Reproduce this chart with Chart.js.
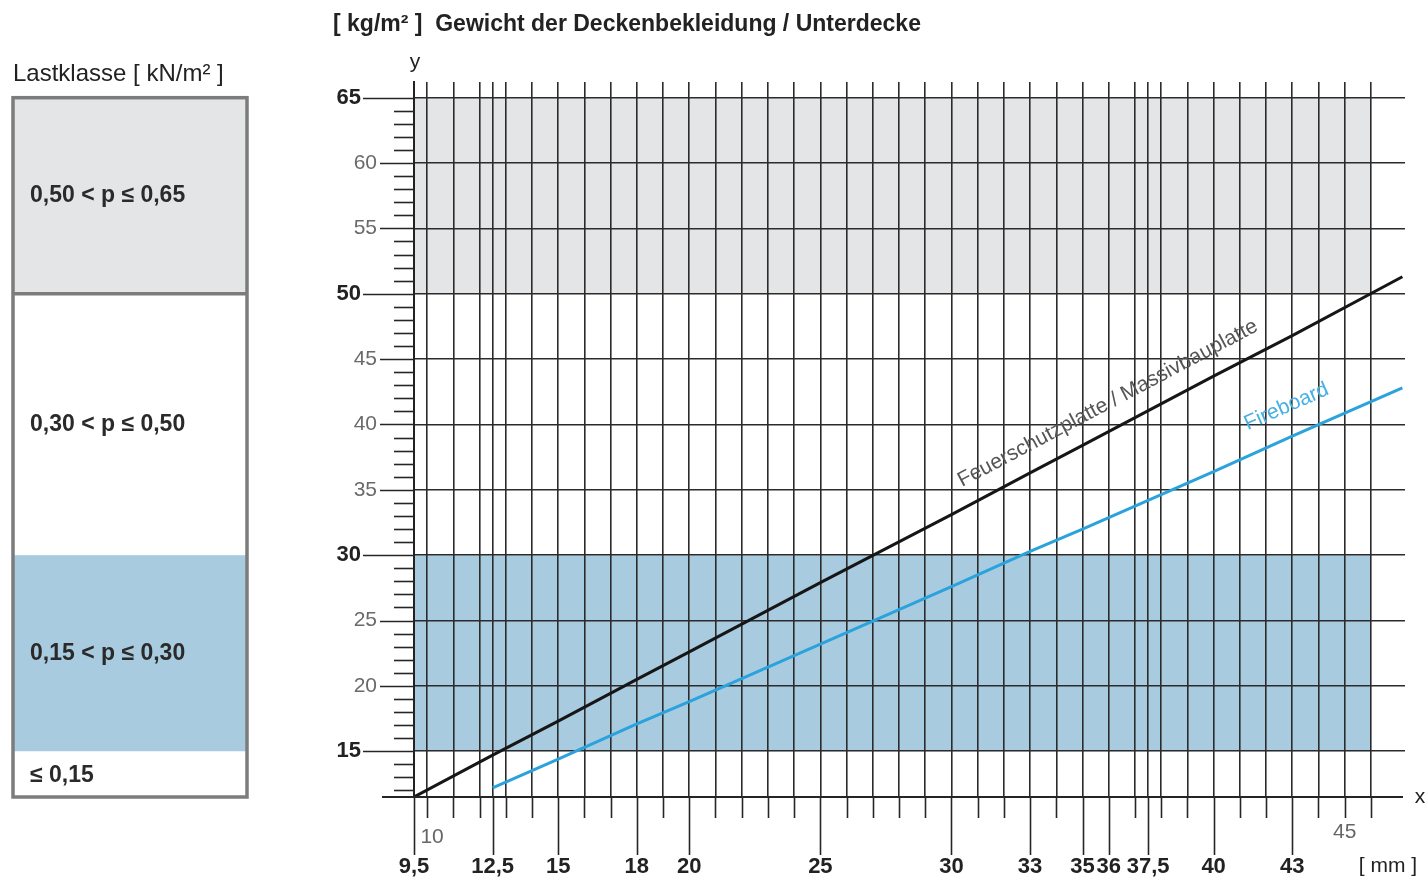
<!DOCTYPE html>
<html><head><meta charset="utf-8">
<script src="https://cdn.jsdelivr.net/npm/chart.js@4.4.1/dist/chart.umd.min.js"></script>
<style>html,body{margin:0;padding:0;background:#fff;}canvas{display:block}</style>
</head><body>
<canvas id="c" width="1428" height="880"></canvas>
<script>
// ---- data ----
const thicknessFeuer = [9.5, 12.5, 15, 18, 20, 25, 30, 33, 35, 40, 43, 47.2];
const weightFeuer    = [11.5, 14.7, 17.3, 20.5, 22.6, 27.9, 33.1, 36.3, 38.4, 43.7, 46.8, 51.3];
const thicknessFire  = [12.5, 15, 18, 20, 25, 30, 33, 35, 40, 43, 47.2];
const weightFire     = [12.2, 14.4, 17.1, 18.8, 23.2, 27.6, 30.3, 32.0, 36.4, 39.1, 42.8];

const xGridValues = [10,11,12,12.5,13,14,15,16,17,18,19,20,21,22,23,24,25,26,27,28,29,30,31,32,33,34,35,36,37,37.5,38,39,40,41,42,43,44,45,46];
const xMainTicks  = [9.5,12.5,15,18,20,25,30,33,35,36,37.5,40,43];
const xMainLabels = ['9,5','12,5','15','18','20','25','30','33','35','36','37,5','40','43'];
const xSideTicks  = [10,45];
const xSideLabels = ['10','45'];
const yMajorTicks = [15,20,25,30,35,40,45,50,55,60,65];
const yBoldTicks  = [15,30,50,65];
const yMinorTicks = [12,13,14,16,17,18,19,21,22,23,24,26,27,28,29,31,32,33,34,36,37,38,39,41,42,43,44,46,47,48,49,51,52,53,54,56,57,58,59,61,62,63,64];
const loadClassLabels = ['0,50 < p \u2264 0,65','0,30 < p \u2264 0,50','0,15 < p \u2264 0,30','\u2264 0,15'];
const loadClassLow  = [50, 30, 15, 11.5];
const loadClassHigh = [65, 50, 30, 15];
const seriesNames = ['Feuerschutzplatte / Massivbauplatte', 'Fireboard'];
const titleText = '[ kg/m\u00B2 ]  Gewicht der Deckenbekleidung / Unterdecke';
const panelTitle = 'Lastklasse [ kN/m\u00B2 ]';

const X_MIN = 9.5, X_MAX = 47.3, Y_MIN = 11.5, Y_MAX = 66.2, BAND_X_END = 46;
const FONT = '"Liberation Sans", Arial, Helvetica, sans-serif';
const GRAY_BAND = '#e4e5e7', BLUE_BAND = '#a9cbe0';

function interp(xs, ys, x) {
  for (let i = 0; i < xs.length - 1; i++) {
    if (x >= xs[i] && x <= xs[i+1]) return ys[i] + (ys[i+1]-ys[i])*(x-xs[i])/(xs[i+1]-xs[i]);
  }
  return ys[ys.length-1];
}

const decor = {
  id: 'decor',
  beforeDraw(chart) {
    const ctx = chart.ctx, xs = chart.scales.x, ys = chart.scales.y;
    ctx.save();
    ctx.fillStyle = '#fff';
    ctx.fillRect(0, 0, chart.width, chart.height);
    const x0 = xs.getPixelForValue(X_MIN), x1 = xs.getPixelForValue(BAND_X_END);
    ctx.fillStyle = GRAY_BAND;
    ctx.fillRect(x0, ys.getPixelForValue(65), x1 - x0, ys.getPixelForValue(50) - ys.getPixelForValue(65));
    ctx.fillStyle = BLUE_BAND;
    ctx.fillRect(x0, ys.getPixelForValue(30), x1 - x0, ys.getPixelForValue(15) - ys.getPixelForValue(30));
    const pL = 13, pR = 247;
    ctx.fillStyle = GRAY_BAND;
    ctx.fillRect(pL, ys.getPixelForValue(65), pR - pL, ys.getPixelForValue(50) - ys.getPixelForValue(65));
    ctx.fillStyle = BLUE_BAND;
    ctx.fillRect(pL, ys.getPixelForValue(30), pR - pL, ys.getPixelForValue(15) - ys.getPixelForValue(30));
    ctx.restore();
  },
  afterDraw(chart) {
    const ctx = chart.ctx, xs = chart.scales.x, ys = chart.scales.y;
    const bottom = ys.getPixelForValue(Y_MIN);
    const axisX = xs.getPixelForValue(X_MIN);
    ctx.save();
    ctx.strokeStyle = '#252525';
    ctx.lineWidth = 2;
    ctx.beginPath(); ctx.moveTo(382, bottom); ctx.lineTo(1403, bottom); ctx.stroke();
    ctx.lineWidth = 1.6;
    const allX = [X_MIN].concat(xGridValues);
    allX.forEach(v => {
      let len = 21;
      if (xMainTicks.includes(v)) len = 58;
      const px = Math.round(xs.getPixelForValue(v)) + 0.5;
      ctx.beginPath(); ctx.moveTo(px, bottom); ctx.lineTo(px, bottom + len); ctx.stroke();
    });
    ctx.textAlign = 'center'; ctx.textBaseline = 'middle';
    ctx.fillStyle = '#222';
    ctx.font = 'bold 22px ' + FONT;
    xMainTicks.forEach((v, i) => ctx.fillText(xMainLabels[i], xs.getPixelForValue(v), 867));
    ctx.fillStyle = '#666';
    ctx.font = '21px ' + FONT;
    ctx.fillText(xSideLabels[0], xs.getPixelForValue(xSideTicks[0]) + 5, 837);
    ctx.fillText(xSideLabels[1], xs.getPixelForValue(xSideTicks[1]), 832);
    ctx.fillStyle = '#222';
    ctx.font = '21px ' + FONT;
    ctx.fillText('[ mm ]', 1388, 866);
    ctx.fillText('x', 1420, bottom);
    ctx.fillText('y', axisX + 1, 62);
    ctx.lineWidth = 1.6;
    yMajorTicks.forEach(v => {
      const py = Math.round(ys.getPixelForValue(v)) + 0.5;
      const start = yBoldTicks.includes(v) ? 363 : 380;
      ctx.beginPath(); ctx.moveTo(start, py); ctx.lineTo(axisX, py); ctx.stroke();
    });
    yMinorTicks.forEach(v => {
      const py = Math.round(ys.getPixelForValue(v)) + 0.5;
      ctx.beginPath(); ctx.moveTo(394, py); ctx.lineTo(axisX, py); ctx.stroke();
    });
    ctx.textAlign = 'right'; ctx.textBaseline = 'middle';
    yMajorTicks.forEach(v => {
      const py = ys.getPixelForValue(v);
      if (yBoldTicks.includes(v)) {
        ctx.font = 'bold 22px ' + FONT; ctx.fillStyle = '#222';
        ctx.fillText(String(v), 361, py);
      } else {
        ctx.font = '21px ' + FONT; ctx.fillStyle = '#6a6a6a';
        ctx.fillText(String(v), 377, py);
      }
    });
    ctx.textAlign = 'left'; ctx.textBaseline = 'middle';
    ctx.fillStyle = '#222';
    ctx.font = 'bold 23px ' + FONT;
    ctx.fillText(titleText, 333, 25);
    ctx.font = '24px ' + FONT;
    ctx.fillText(panelTitle, 13, 74);
    const pL = 13, pR = 247;
    ctx.strokeStyle = '#7c7c7c';
    ctx.lineWidth = 3.5;
    const pt = ys.getPixelForValue(65), pb = ys.getPixelForValue(Y_MIN);
    ctx.strokeRect(pL, pt, pR - pL, pb - pt);
    ctx.beginPath(); ctx.moveTo(pL, ys.getPixelForValue(50)); ctx.lineTo(pR, ys.getPixelForValue(50)); ctx.stroke();
    ctx.fillStyle = '#2a2a2a';
    ctx.font = 'bold 23px ' + FONT;
    loadClassLabels.forEach((t, i) => {
      const cy = (ys.getPixelForValue(loadClassLow[i]) + ys.getPixelForValue(loadClassHigh[i])) / 2;
      ctx.fillText(t, 30, i === 3 ? cy + 2 : cy);
    });
    function lineLabel(txs, tys, xStart, text, color, off, size) {
      const a = xs.getPixelForValue(xStart), b = ys.getPixelForValue(interp(txs, tys, xStart));
      const a2 = xs.getPixelForValue(xStart + 5), b2 = ys.getPixelForValue(interp(txs, tys, xStart + 5));
      const ang = Math.atan2(b2 - b, a2 - a);
      ctx.save();
      ctx.translate(a, b - off);
      ctx.rotate(ang);
      ctx.fillStyle = color;
      ctx.font = size + 'px ' + FONT;
      ctx.textAlign = 'left'; ctx.textBaseline = 'alphabetic';
      ctx.fillText(text, 0, 0);
      ctx.restore();
    }
    lineLabel(thicknessFeuer, weightFeuer, 30.4, seriesNames[0], '#555', 22, 21);
    lineLabel(thicknessFire, weightFire, 41.3, seriesNames[1], '#45b0e2', 26, 21);
    ctx.restore();
  }
};

new Chart(document.getElementById('c'), {
  type: 'line',
  data: {
    datasets: [
      { label: seriesNames[0], data: thicknessFeuer.map((t, i) => ({x: t, y: weightFeuer[i]})),
        borderColor: '#161616', borderWidth: 3, pointRadius: 0, tension: 0, fill: false },
      { label: seriesNames[1], data: thicknessFire.map((t, i) => ({x: t, y: weightFire[i]})),
        borderColor: '#2aa3dc', borderWidth: 3, pointRadius: 0, tension: 0, fill: false }
    ]
  },
  options: {
    responsive: false,
    devicePixelRatio: 1,
    animation: false,
    layout: { padding: { left: 414, right: 23, top: 82, bottom: 83 } },
    plugins: { legend: { display: false }, tooltip: { enabled: false } },
    scales: {
      x: {
        type: 'linear', min: X_MIN, max: X_MAX,
        afterBuildTicks: s => { s.ticks = xGridValues.map(v => ({value: v})); },
        afterFit: s => { s.height = 0; },
        ticks: { display: false },
        grid: { color: '#2b2b2b', lineWidth: 1.6, drawTicks: false },
        border: { display: false }
      },
      y: {
        type: 'linear', min: Y_MIN, max: Y_MAX,
        afterBuildTicks: s => { s.ticks = yMajorTicks.map(v => ({value: v})); },
        afterFit: s => { s.width = 0; },
        ticks: { display: false },
        grid: { color: '#2b2b2b', lineWidth: 1.6, drawTicks: false },
        border: { display: true, color: '#222', width: 2 }
      }
    }
  },
  plugins: [decor]
});
</script>
</body></html>
